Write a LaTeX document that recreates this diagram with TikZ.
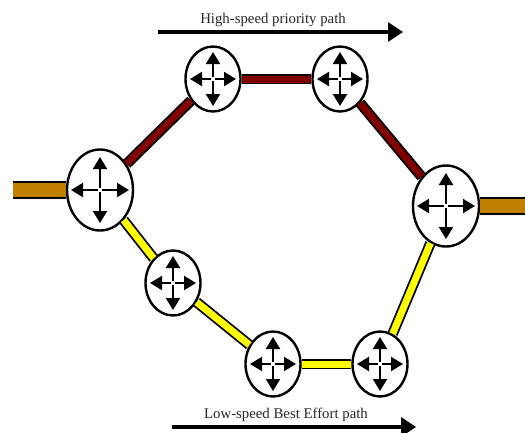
\documentclass[tikz,border=0pt]{standalone}
\usepackage{fontspec}
\setmainfont{Liberation Serif}
\usetikzlibrary{arrows.meta,shapes.geometric}
\definecolor{stubc}{RGB}{191,128,0}
\definecolor{fastc}{RGB}{128,0,0}
\definecolor{slowc}{RGB}{255,255,0}
\tikzset{
  x=1pt,y=-1pt,
  bigrouter/.style={draw=black,fill=white,ellipse,line width=2.4pt,minimum width=66pt,minimum height=81pt,inner sep=0pt},
  smallrouter/.style={draw=black,fill=white,ellipse,line width=2.4pt,minimum width=55pt,minimum height=65pt,inner sep=0pt},
  stub/.style={draw=black,line width=2pt,double=stubc,double distance=14pt},
  fast/.style={draw=black,line width=1.8pt,double=fastc,double distance=7pt},
  slow/.style={draw=black,line width=1.8pt,double=slowc,double distance=7pt},
  crossarrow/.style={line width=2pt,-{Triangle[length=12pt,width=14pt]}},
  patharrow/.style={line width=3.2pt,-{Triangle[length=15pt,width=19pt]}},
  caption/.style={inner sep=0pt,font=\fontsize{14.8pt}{16pt}\selectfont,text=black!85}
}
\newcommand{\crossat}[3]{%
  \draw[crossarrow] (#1) ++(2,0) -- ++(#2,0);
  \draw[crossarrow] (#1) ++(-2,0) -- ++(-#2,0);
  \draw[crossarrow] (#1) ++(0,2) -- ++(0,#3);
  \draw[crossarrow] (#1) ++(0,-2) -- ++(0,-#3);
}
\begin{document}
\begin{tikzpicture}
\useasboundingbox (0,0) rectangle (525,432);
\node[bigrouter] (L) at (100,190) {};
\node[bigrouter] (R) at (446,206) {};
\node[smallrouter] (T1) at (213,79) {};
\node[smallrouter] (T2) at (340,79) {};
\node[smallrouter] (B1) at (173,283) {};
\node[smallrouter] (B2) at (273,364) {};
\node[smallrouter] (B3) at (380,364) {};
\coordinate (SL) at (13,190);
\coordinate (SR) at (525,206);
\coordinate (A1) at (158,32);
\coordinate (A2) at (403,32);
\coordinate (C1) at (172,427);
\coordinate (C2) at (416,427);
\draw[stub] (SL) -- (L);
\draw[stub] (R) -- (SR);
\draw[fast] (L) -- (T1);
\draw[fast] (T1) -- (T2);
\draw[fast] (T2) -- (R);
\draw[slow] (L) -- (B1);
\draw[slow] (B1) -- (B2);
\draw[slow] (B2) -- (B3);
\draw[slow] (B3) -- (R);
\crossat{L}{27}{31}
\crossat{R}{27}{31}
\crossat{T1}{21}{25}
\crossat{T2}{21}{25}
\crossat{B1}{21}{25}
\crossat{B2}{21}{25}
\crossat{B3}{21}{25}
\draw[patharrow] (A1) -- (A2);
\draw[patharrow] (C1) -- (C2);
\node[caption] (HS) at (273,20) {High-speed priority path};
\node[caption] (LS) at (286,415) {Low-speed Best Effort path};
\end{tikzpicture}
\end{document}
